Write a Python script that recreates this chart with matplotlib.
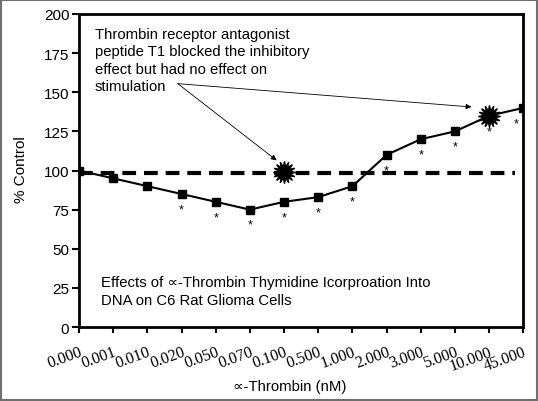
import matplotlib.pyplot as plt
import numpy as np

# alpha-thrombin doses (categorical x axis)
doses = ['0.000', '0.001', '0.010', '0.020', '0.050', '0.070', '0.100',
         '0.500', '1.000', '2.000', '3.000', '5.000', '10.000', '45.000']
pct_control = [100, 95, 90, 85, 80, 75, 80, 83, 90, 110, 120, 125, 135, 140]
significant = [False, False, False, True, True, True, True,
               True, True, True, True, True, True, True]

# T1 antagonist points (index into doses, value)
t1_idx = [6, 12]
t1_vals = [99, 135]
baseline = 98.5

note_top = ("Thrombin receptor antagonist\npeptide T1 blocked the inhibitory\n"
            "effect but had no effect on\nstimulation")
note_bottom = ("Effects of \u221d-Thrombin Thymidine Icorproation Into\n"
               "DNA on C6 Rat Glioma Cells")

sans = ['Liberation Sans', 'DejaVu Sans']
plt.rcParams['font.family'] = sans

fig = plt.figure(figsize=(5.38, 4.02), dpi=100)
ax = fig.add_axes([0.1468, 0.184, 0.826, 0.7787])

x = np.arange(len(doses))

# dashed control line
ax.plot([0, 12.75], [baseline, baseline], color='black', lw=3,
        dashes=(3.3, 1.9), zorder=2)

# main series
ax.plot(x, pct_control, color='black', lw=1.5, marker='s', markersize=6, zorder=3)

# significance asterisks
for xi, yi, s in zip(x, pct_control, significant):
    if s:
        dx = -5 if xi == len(doses) - 1 else 0
        ax.annotate('*', (xi, yi), xytext=(dx, -11), textcoords='offset points',
                    ha='center', va='center', fontsize=9, zorder=5)

# T1 bursts
ax.plot(t1_idx, t1_vals, linestyle='none', marker=(16, 1, 0), markersize=16,
        color='black', zorder=4)

# annotation text and arrows
ax.text(0.47, 192, note_top, fontsize=10.7, va='top', ha='left', linespacing=1.32)
for tip in [(5.78, 106.5), (11.48, 140.6)]:
    ax.annotate('', xy=tip, xytext=(2.89, 155.5),
                arrowprops=dict(arrowstyle='-|>', color='black', lw=0.6,
                                mutation_scale=8, shrinkA=0, shrinkB=0))

ax.text(0.64, 13, note_bottom, fontsize=10.7, va='bottom', ha='left', linespacing=1.32)

ax.set_xlim(0, 13)
ax.set_ylim(0, 200)
ax.set_yticks(range(0, 201, 25))
ax.tick_params(axis='y', labelsize=11, length=5, width=1.5, direction='out', pad=2)
ax.set_xticks(x)
ax.set_xticklabels(doses, rotation=20, ha='right', rotation_mode='anchor',
                   fontsize=11.5, family='Liberation Serif')
ax.tick_params(axis='x', length=4, width=1.5, direction='out', pad=8)
for sp in ax.spines.values():
    sp.set_linewidth(2)

ax.set_ylabel('% Control', fontsize=11)
ax.yaxis.set_label_coords(-0.115, 0.505)
ax.set_xlabel('\u221d-Thrombin (nM)', fontsize=10.7)
ax.xaxis.set_label_coords(0.475, -0.165)

# grey frame round the whole figure
fig.patches.append(plt.Rectangle((0.002, 0.003), 0.996, 0.994, transform=fig.transFigure,
                                 fill=False, edgecolor='#707070', lw=1.5))

fig.savefig('out.png', dpi=100)
